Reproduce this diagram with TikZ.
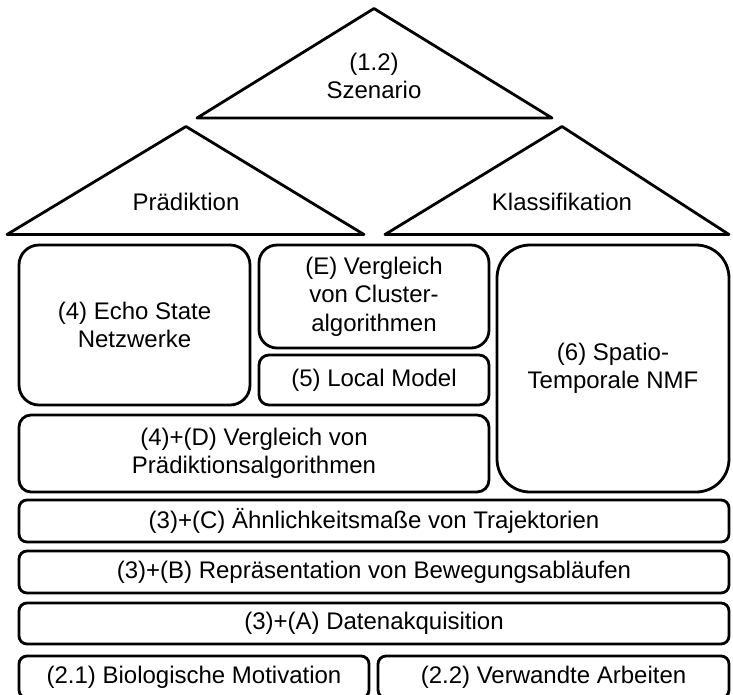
\documentclass[tikz,border=0pt]{standalone}
\usepackage{fontspec}
\setmainfont{Liberation Sans}
\newcommand\lblfont{\fontsize{24}{28.5}\selectfont}
\begin{document}
\begin{tikzpicture}[x=1pt,y=-1pt,
  outline/.style={draw=black, line width=2.8pt},
  lbl/.style={font=\lblfont, align=center, inner sep=0pt},
  box/.style={outline, lbl, rounded corners=#1, minimum width=0pt},
  roof/.style={outline, line join=round}]
\useasboundingbox (0,0) rectangle (733,694);

% roof: three triangles
\coordinate (ta) at (374,8.5);   \coordinate (tl) at (197,118); \coordinate (tr) at (552,118);
\coordinate (la) at (186,126.5); \coordinate (ll) at (7,234.5); \coordinate (lr) at (364,234.5);
\coordinate (ra) at (562,126.5); \coordinate (rl) at (385,234.5); \coordinate (rr) at (729,234.5);
\draw[roof] (tl) -- (ta) -- (tr) -- cycle;
\draw[roof] (ll) -- (la) -- (lr) -- cycle;
\draw[roof] (rl) -- (ra) -- (rr) -- cycle;
\node[lbl] (szen) at (374,76) {(1.2)\\Szenario};
\node[lbl] (praed) at (186,202) {Prädiktion};
\node[lbl] (klass) at (562,202) {Klassifikation};

% upper floor
\node[box=20pt, minimum width=231pt, minimum height=160pt] (esn) at (134.5,325)
  {(4) Echo State\\Netzwerke};
\node[box=18pt, minimum width=230pt, minimum height=103pt] (clust) at (374,296.5)
  {(E) Vergleich\\von Cluster-\\algorithmen};
\node[box=10pt, minimum width=230pt, minimum height=50pt] (local) at (374,380)
  {(5) Local Model};
\node[box=33pt, minimum width=232pt, minimum height=247pt] (stnmf) at (613,368.5)
  {(6) Spatio-\\Temporale NMF};
\node[box=12pt, minimum width=470pt, minimum height=77pt] (vglpr) at (254,453.5)
  {(4)+(D) Vergleich von\\Prädiktionsalgorithmen};

% foundation layers
\node[box=8pt, minimum width=710pt, minimum height=42pt] (sim) at (374,521)
  {(3)+(C) Ähnlichkeitsmaße von Trajektorien};
\node[box=8pt, minimum width=710pt, minimum height=42pt] (repr) at (374,572)
  {(3)+(B) Repräsentation von Bewegungsabläufen};
\node[box=8pt, minimum width=710pt, minimum height=41pt] (daten) at (374,623.5)
  {(3)+(A) Datenakquisition};
\node[box=8pt, minimum width=350pt, minimum height=42pt] (bio) at (194,677)
  {(2.1) Biologische Motivation};
\node[box=8pt, minimum width=351pt, minimum height=42pt] (verw) at (553.5,677)
  {(2.2) Verwandte Arbeiten};
\end{tikzpicture}
\end{document}
